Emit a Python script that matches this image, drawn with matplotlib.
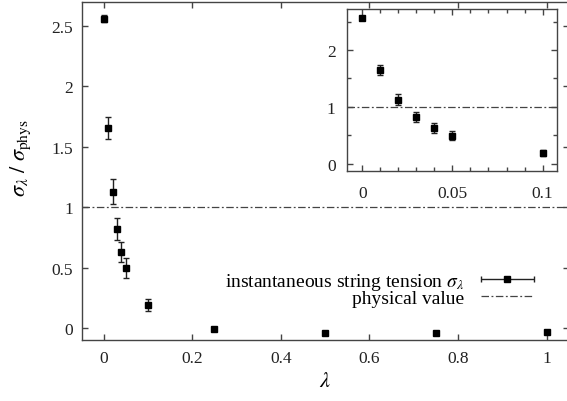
import numpy as np
import matplotlib
matplotlib.use("Agg")
import matplotlib.pyplot as plt
from matplotlib.legend_handler import HandlerErrorbar
from matplotlib.container import ErrorbarContainer

plt.rcParams['font.family'] = ['Liberation Serif', 'DejaVu Serif']
plt.rcParams['mathtext.fontset'] = 'stix'
plt.rcParams['font.size'] = 12.5

# data
lam = [0.0, 0.01, 0.02, 0.03, 0.04, 0.05, 0.1, 0.25, 0.5, 0.75, 1.0]
ratio = [2.56, 1.655, 1.13, 0.817, 0.627, 0.496, 0.19, -0.01, -0.04, -0.04, -0.035]
err = [0.03, 0.09, 0.10, 0.09, 0.085, 0.08, 0.05, 0.01, 0.01, 0.01, 0.01]
phys = 1.0

# inset only shows the small-lambda points
n_in = 7

ink = '#222222'
grey = '#444444'
dashdot = (0, (6, 2, 1.5, 2))

fig = plt.figure(figsize=(5.67, 4.02), dpi=100)
ax = fig.add_axes([0.144, 0.1517, 0.859, 0.841])


def style(a, pad_x, pad_y):
    for s in a.spines.values():
        s.set_color(grey)
        s.set_linewidth(1.0)
    a.tick_params(which='both', direction='in', top=True, right=True, color=grey, width=1.0)
    a.tick_params(which='major', length=4)
    a.tick_params(which='minor', length=3)
    a.tick_params(axis='x', pad=pad_x, colors=grey, labelcolor='#222222')
    a.tick_params(axis='y', pad=pad_y, colors=grey, labelcolor='#222222')


ax.errorbar(lam, ratio, yerr=err, fmt='s', ms=4.5, color='black', ecolor=ink,
            elinewidth=1.0, capsize=2.2, capthick=1.0, zorder=3)
ax.axhline(phys, color=grey, lw=0.9, linestyle=dashdot)
ax.set_xlim(-0.05, 1.05)
ax.set_ylim(-0.1, 2.7)
ax.set_xticks([0, 0.2, 0.4, 0.6, 0.8, 1.0])
ax.set_xticklabels(['0', '0.2', '0.4', '0.6', '0.8', '1'])
ax.set_yticks([0, 0.5, 1, 1.5, 2, 2.5])
ax.set_yticklabels(['0', '0.5', '1', '1.5', '2', '2.5'])
style(ax, 7.5, 6)
ax.set_xlabel(r'$\lambda$', fontsize=16, labelpad=4)
ax.set_ylabel(r'$\sigma_{\lambda}\ /\ \sigma_{\rm phys}$', fontsize=16)
ax.yaxis.set_label_coords(-0.10, 0.54)

# legend proxies (horizontal bar like the gnuplot key)
proxy = ax.errorbar([np.nan], [np.nan], xerr=[np.nan], fmt='s', ms=4.5, color='black',
                    ecolor=ink, elinewidth=1.0, capsize=2.2, capthick=1.0)
line_proxy, = ax.plot([], [], color=grey, lw=0.9, linestyle=dashdot)
leg = ax.legend([proxy, line_proxy],
                [r'instantaneous string tension $\sigma_\lambda$', 'physical value'],
                loc='lower right', bbox_to_anchor=(0.948, 0.068), frameon=False,
                markerfirst=False, handlelength=2.7, handletextpad=0.9,
                labelspacing=-0.1, borderpad=0.0, fontsize=14,
                handler_map={ErrorbarContainer: HandlerErrorbar(xerr_size=1.35)})
leg._legend_handle_box.get_children()[0].align = 'right'

# inset
axi = fig.add_axes([0.6115, 0.5729, 0.3709, 0.4022])
axi.errorbar(lam[:n_in], ratio[:n_in], yerr=err[:n_in], fmt='s', ms=4.5, color='black',
             ecolor=ink, elinewidth=1.0, capsize=2.2, capthick=1.0, zorder=3)
axi.axhline(phys, color=grey, lw=0.9, linestyle=dashdot)
axi.set_xlim(-0.0086, 0.108)
axi.set_ylim(-0.12, 2.72)
axi.set_xticks([0, 0.05, 0.1])
axi.set_xticklabels(['0', '0.05', '0.1'])
axi.set_xticks(np.arange(0, 0.11, 0.01), minor=True)
axi.set_yticks([0, 1, 2])
axi.set_yticklabels(['0', '1', '2'])
axi.set_yticks([0.5, 1.5, 2.5], minor=True)
style(axi, 10, 8)

fig.savefig('out.png', dpi=100)
